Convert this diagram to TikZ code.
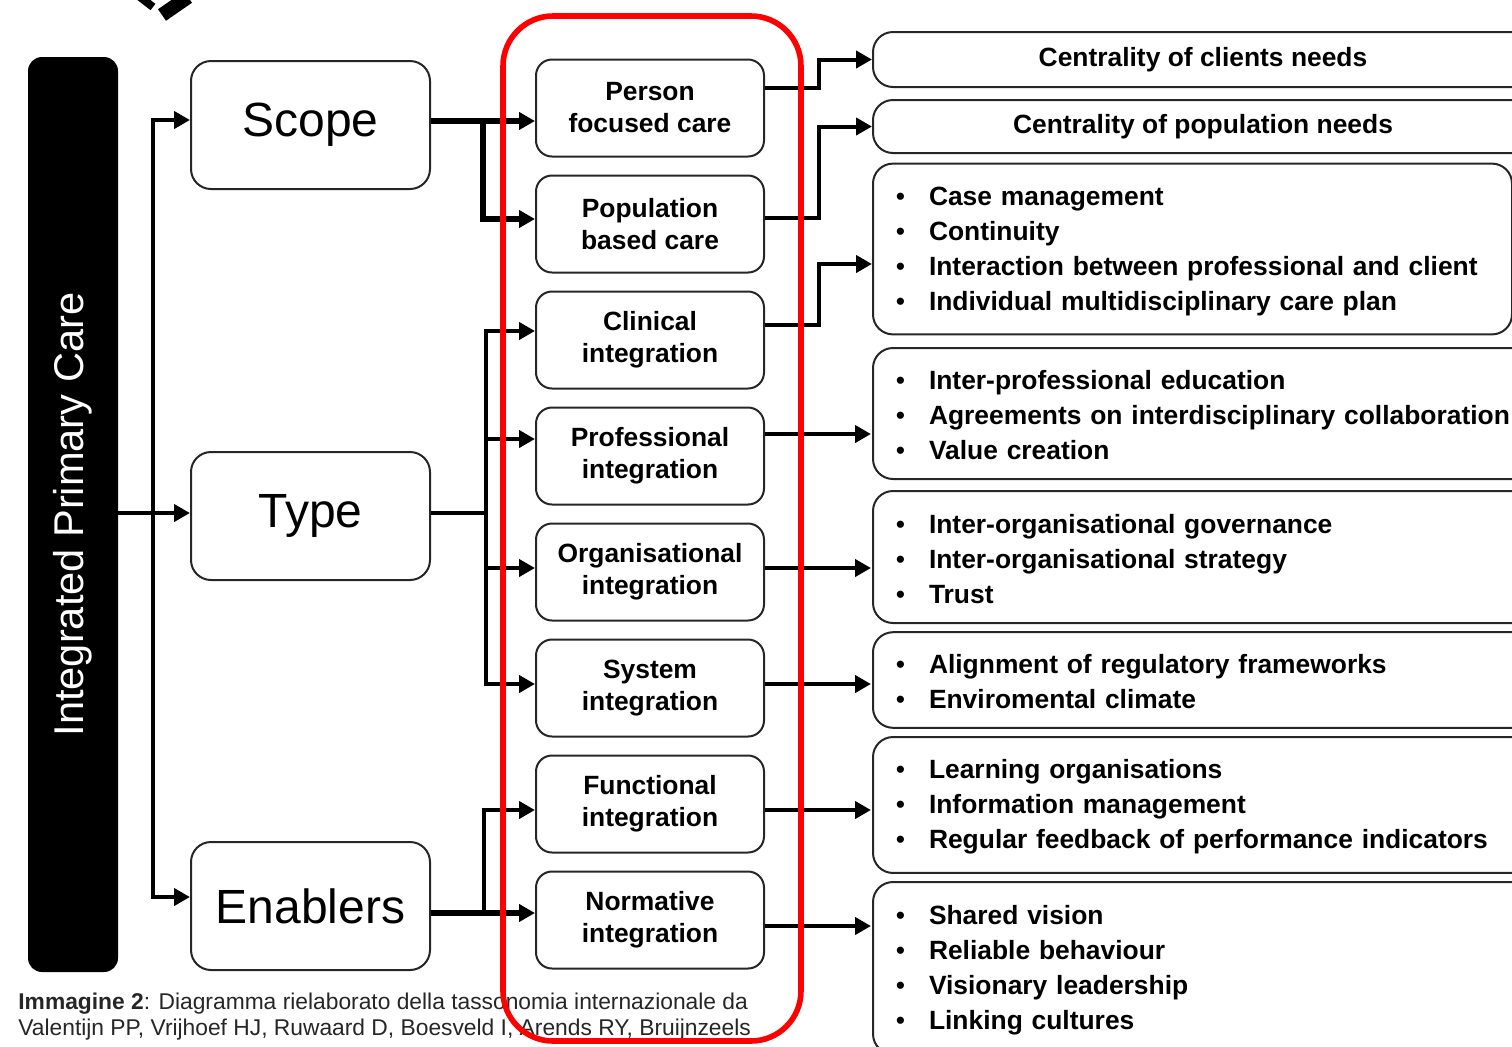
\documentclass[tikz,border=0pt]{standalone}
\usepackage{fontspec}
\setmainfont{Liberation Sans}
\usepackage{enumitem}
\usepackage{tikz}
\usetikzlibrary{arrows.meta}
\usetikzlibrary{positioning}
\setlist[itemize]{nosep,leftmargin=18pt,labelsep=12pt,after={\endgraf\kern6pt}}
\tikzset{
    bar/.style={
           rectangle,
           rounded corners=7pt,
           fill=black, text=white,
           minimum width=457.5pt,
           minimum height=45pt,
           rotate=90,
           font=\fontsize{20.8}{24}\selectfont,
           },
    dim/.style={
           rectangle,
           rounded corners=10pt,
           draw=black!85, line width=1pt,
           minimum width=119.5pt,
           minimum height=64pt,
           font=\fontsize{24}{28}\selectfont,
           },
    integ/.style={
           rectangle,
           rounded corners=8pt,
           draw=black!85, line width=1pt,
           minimum width=114pt,
           minimum height=48.5pt,
           align=center,
           font=\bfseries\fontsize{13.2}{16}\selectfont,
           },
    need/.style={
           rectangle,
           rounded corners=10pt,
           draw=black!85, line width=1pt,
           anchor=west,
           minimum width=330pt,
           inner xsep=10pt,
           font=\bfseries\fontsize{13.2}{17.5}\selectfont,
           },
    items/.style={need, text width=310pt},
    link/.style={->, line width=2pt},
    boldlink/.style={->, line width=2.8pt},
}

\begin{document}
\begin{tikzpicture}[x=0.5pt,y=-0.5pt,>={Triangle[length=8pt,width=8.5pt]}]
 \useasboundingbox (0,0) rectangle (1512,1046);

 % what is left of the logo above
 \draw[line width=4pt] (140,-3) -- (153,7);
 \draw[line width=7pt] (162,15) -- (188,-3);

 \node[bar] (IPC) at (73,514.5) {Integrated Primary Care};

 % dimensions
 \node[dim] (SCOPE) at (310.5,125) {Scope};
 \node[dim, below of=SCOPE, node distance=195.5pt] (TYPE) {Type};
 \node[dim, below of=TYPE, node distance=195pt] (ENAB) {Enablers};

 % integration column
 \node[integ] (PFC) at (650,108) {Person\\focused care};
 \node[integ, below of=PFC, node distance=58pt] (PBC) {Population\\based care};
 \node[integ, below of=PBC, node distance=58pt] (CLIN) {Clinical\\integration};
 \node[integ, below of=CLIN, node distance=58pt] (PROF) {Professional\\integration};
 \node[integ, below of=PROF, node distance=58pt] (ORG) {Organisational\\integration};
 \node[integ, below of=ORG, node distance=58pt] (SYS) {System\\integration};
 \node[integ, below of=SYS, node distance=58pt] (FUNC) {Functional\\integration};
 \node[integ, below of=FUNC, node distance=58pt] (NORM) {Normative\\integration};

 % right column
 \node[need, minimum height=27.5pt] (CCN) at (872,59.5) {Centrality of clients needs};
 \node[need, minimum height=26.5pt] (CPN) at (872,126.5) {Centrality of population needs};
 \node[items, minimum width=319.5pt, text width=299.5pt, minimum height=85pt] (CLL) at (872,249)
 {%
  \begin{itemize}
   \item Case management
   \item Continuity
   \item Interaction between professional and client
   \item Individual multidisciplinary care plan
  \end{itemize}
 };
 \node[items, minimum height=65.5pt] (PRL) at (872,413.5)
 {%
  \begin{itemize}
   \item Inter-professional education
   \item Agreements on interdisciplinary collaboration
   \item Value creation
  \end{itemize}
 };
 \node[items, minimum height=66pt] (ORL) at (872,557)
 {%
  \begin{itemize}
   \item Inter-organisational governance
   \item Inter-organisational strategy
   \item Trust
  \end{itemize}
 };
 \node[items, minimum height=45pt] (SYL) at (872,680)
 {%
  \begin{itemize}
   \item Alignment of regulatory frameworks
   \item Enviromental climate
  \end{itemize}
 };
 \node[items, minimum height=66pt] (FUL) at (872,805)
 {%
  \begin{itemize}
   \item Learning organisations
   \item Information management
   \item Regular feedback of performance indicators
  \end{itemize}
 };
 \node[items, minimum height=86pt] (NOL) at (872,968)
 {%
  \begin{itemize}
   \item Shared vision
   \item Reliable behaviour
   \item Visionary leadership
   \item Linking cultures
  \end{itemize}
 };

 % left tree
 \coordinate (LT) at (153,513);
 \draw[link] (IPC.south |- LT) -- (TYPE.west |- LT);
 \draw[link] (LT) |- ([yshift=2.5pt]SCOPE.west);
 \draw[link] (LT) |- ([yshift=4.5pt]ENAB.west);

 % scope
 \coordinate (SJ) at (483,121);
 \draw[line width=2.8pt] (SCOPE.east |- SJ) -- (SJ);
 \draw[boldlink] (SJ) -- (PFC.west |- SJ);
 \draw[boldlink] (SJ) |- ([yshift=2.5pt]PBC.west);

 % type
 \coordinate (TJ) at (486,513);
 \draw[line width=2.2pt] (TYPE.east |- TJ) -- (TJ);
 \draw[link] (TJ) |- ([yshift=4.5pt]CLIN.west);
 \draw[link] (TJ) |- ([yshift=8.5pt]PROF.west);
 \draw[link] (TJ) |- ([yshift=2pt]ORG.west);
 \draw[link] (TJ) |- ([yshift=2pt]SYS.west);

 % enablers
 \coordinate (EJ) at (484,913);
 \draw[line width=2.8pt] (ENAB.east |- EJ) -- (EJ);
 \draw[link] (EJ) |- ([yshift=-3pt]FUNC.west);
 \draw[boldlink] (EJ) -- (NORM.west |- EJ);

 % to the right column
 \draw[link] ([yshift=10pt]PFC.east) -- ++(27pt,0) |- (CCN.west);
 \draw[link] ([yshift=3pt]PBC.east) -- ++(27pt,0) |- (CPN.west);
 \draw[link] ([yshift=7.5pt]CLIN.east) -- ++(27pt,0) |- ([yshift=-7.5pt]CLL.west);
 \draw[link] ([yshift=11pt]PROF.east) -- ++(53pt,0);
 \draw[link] ([yshift=2pt]ORG.east) -- ++(53pt,0);
 \draw[link] ([yshift=2pt]SYS.east) -- ++(53pt,0);
 \draw[link] ([yshift=-3pt]FUNC.east) -- ++(53pt,0);
 \draw[link] ([yshift=-3pt]NORM.east) -- ++(53pt,0);

 % caption
 \node[anchor=west, align=left, inner sep=0pt, text=black!85,
   font=\fontsize{11.4}{13}\selectfont] (CAP) at (18,1017)
 {\textbf{Immagine 2}: Diagramma rielaborato della tassonomia internazionale da\\
  Valentijn PP, Vrijhoef HJ, Ruwaard D, Boesveld I, Arends RY, Bruijnzeels};

 % red frame
 \draw[red, line width=2.8pt, rounded corners=25pt] (503,16) rectangle (801,1041);
\end{tikzpicture}
\end{document}
